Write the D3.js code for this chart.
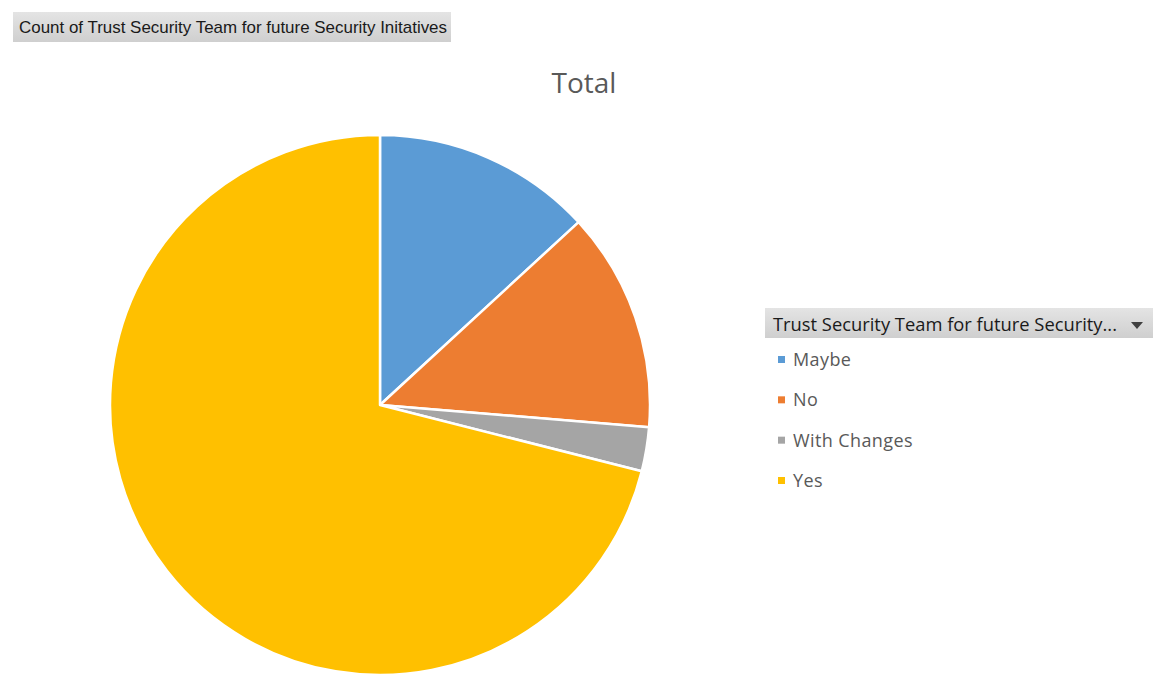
<!DOCTYPE html>
<html>
<head>
<meta charset="utf-8">
<script src="https://cdn.jsdelivr.net/npm/d3@7"></script>
<style>
  body { margin: 0; background: #fff; }
  svg { display: block; font-family: 'Open Sans', sans-serif; }
</style>
</head>
<body>
<div class="dataviz"></div>
<script>
// data
const categories = ['Maybe', 'No', 'With Changes', 'Yes']
const counts = [5, 5, 1, 27]
const colors = ['#5B9BD5', '#ED7D31', '#A5A5A5', '#FFC000']
const fieldTitle = 'Count of Trust Security Team  for future Security Initatives'
const legendTitle = 'Trust Security Team for future Security...'
const chartTitle = 'Total'

const width = 1156
const height = 677

const svg = d3.select('.dataviz').append('svg')
  .attr('width', width).attr('height', height)

const defs = svg.append('defs')
const grad = defs.append('linearGradient').attr('id', 'btn').attr('x1', 0).attr('x2', 0).attr('y1', 0).attr('y2', 1)
grad.append('stop').attr('offset', '0%').attr('stop-color', '#e4e4e4')
grad.append('stop').attr('offset', '100%').attr('stop-color', '#cfcfcf')

// field button top-left
svg.append('rect')
  .attr('x', 13).attr('y', 12).attr('width', 438).attr('height', 30)
  .attr('fill', 'url(#btn)')
svg.append('text')
  .attr('x', 19).attr('y', 33)
  .attr('font-family', "'Liberation Sans Narrow', 'Liberation Sans', sans-serif")
  .attr('font-size', 17)
  .attr('fill', '#1a1a1a')
  .attr('textLength', 428)
  .attr('lengthAdjust', 'spacingAndGlyphs')
  .text(fieldTitle)

// chart title
svg.append('text')
  .attr('x', 584).attr('y', 93)
  .attr('text-anchor', 'middle')
  .attr('font-size', 28)
  .attr('fill', '#595959')
  .text(chartTitle)

// pie
const cx = 380, cy = 405, radius = 270
const pie = d3.pie().sort(null).value(d => d)
const arc = d3.arc().innerRadius(0).outerRadius(radius)

svg.append('g')
  .attr('transform', `translate(${cx}, ${cy})`)
  .selectAll('path')
  .data(pie(counts))
  .enter()
  .append('path')
  .attr('d', arc)
  .attr('fill', (d, i) => colors[i])
  .attr('stroke', '#fff')
  .attr('stroke-width', 2.5)
  .attr('stroke-linejoin', 'round')

// legend
const lg = svg.append('g')
lg.append('rect')
  .attr('x', 765).attr('y', 308).attr('width', 388).attr('height', 30)
  .attr('fill', 'url(#btn)')
lg.append('text')
  .attr('x', 773).attr('y', 331)
  .attr('font-size', 17.5)
  .attr('fill', '#1a1a1a')
  .attr('textLength', 344)
  .attr('lengthAdjust', 'spacingAndGlyphs')
  .text(legendTitle)
lg.append('path')
  .attr('d', 'M1131,322 L1143,322 L1137,329 Z')
  .attr('fill', '#404040')

const legendY = d3.scalePoint().domain(categories).range([360, 481])

const items = lg.selectAll('g.item')
  .data(categories)
  .enter()
  .append('g')
  .attr('class', 'item')
  .attr('transform', d => `translate(778, ${legendY(d)})`)

items.append('rect')
  .attr('x', 0).attr('y', -4).attr('width', 7).attr('height', 7)
  .attr('fill', (d, i) => colors[i])
items.append('text')
  .attr('x', 15).attr('y', 6)
  .attr('font-size', 18)
  .attr('letter-spacing', 0.4)
  .attr('fill', '#595959')
  .text(d => d)
</script>
</body>
</html>
